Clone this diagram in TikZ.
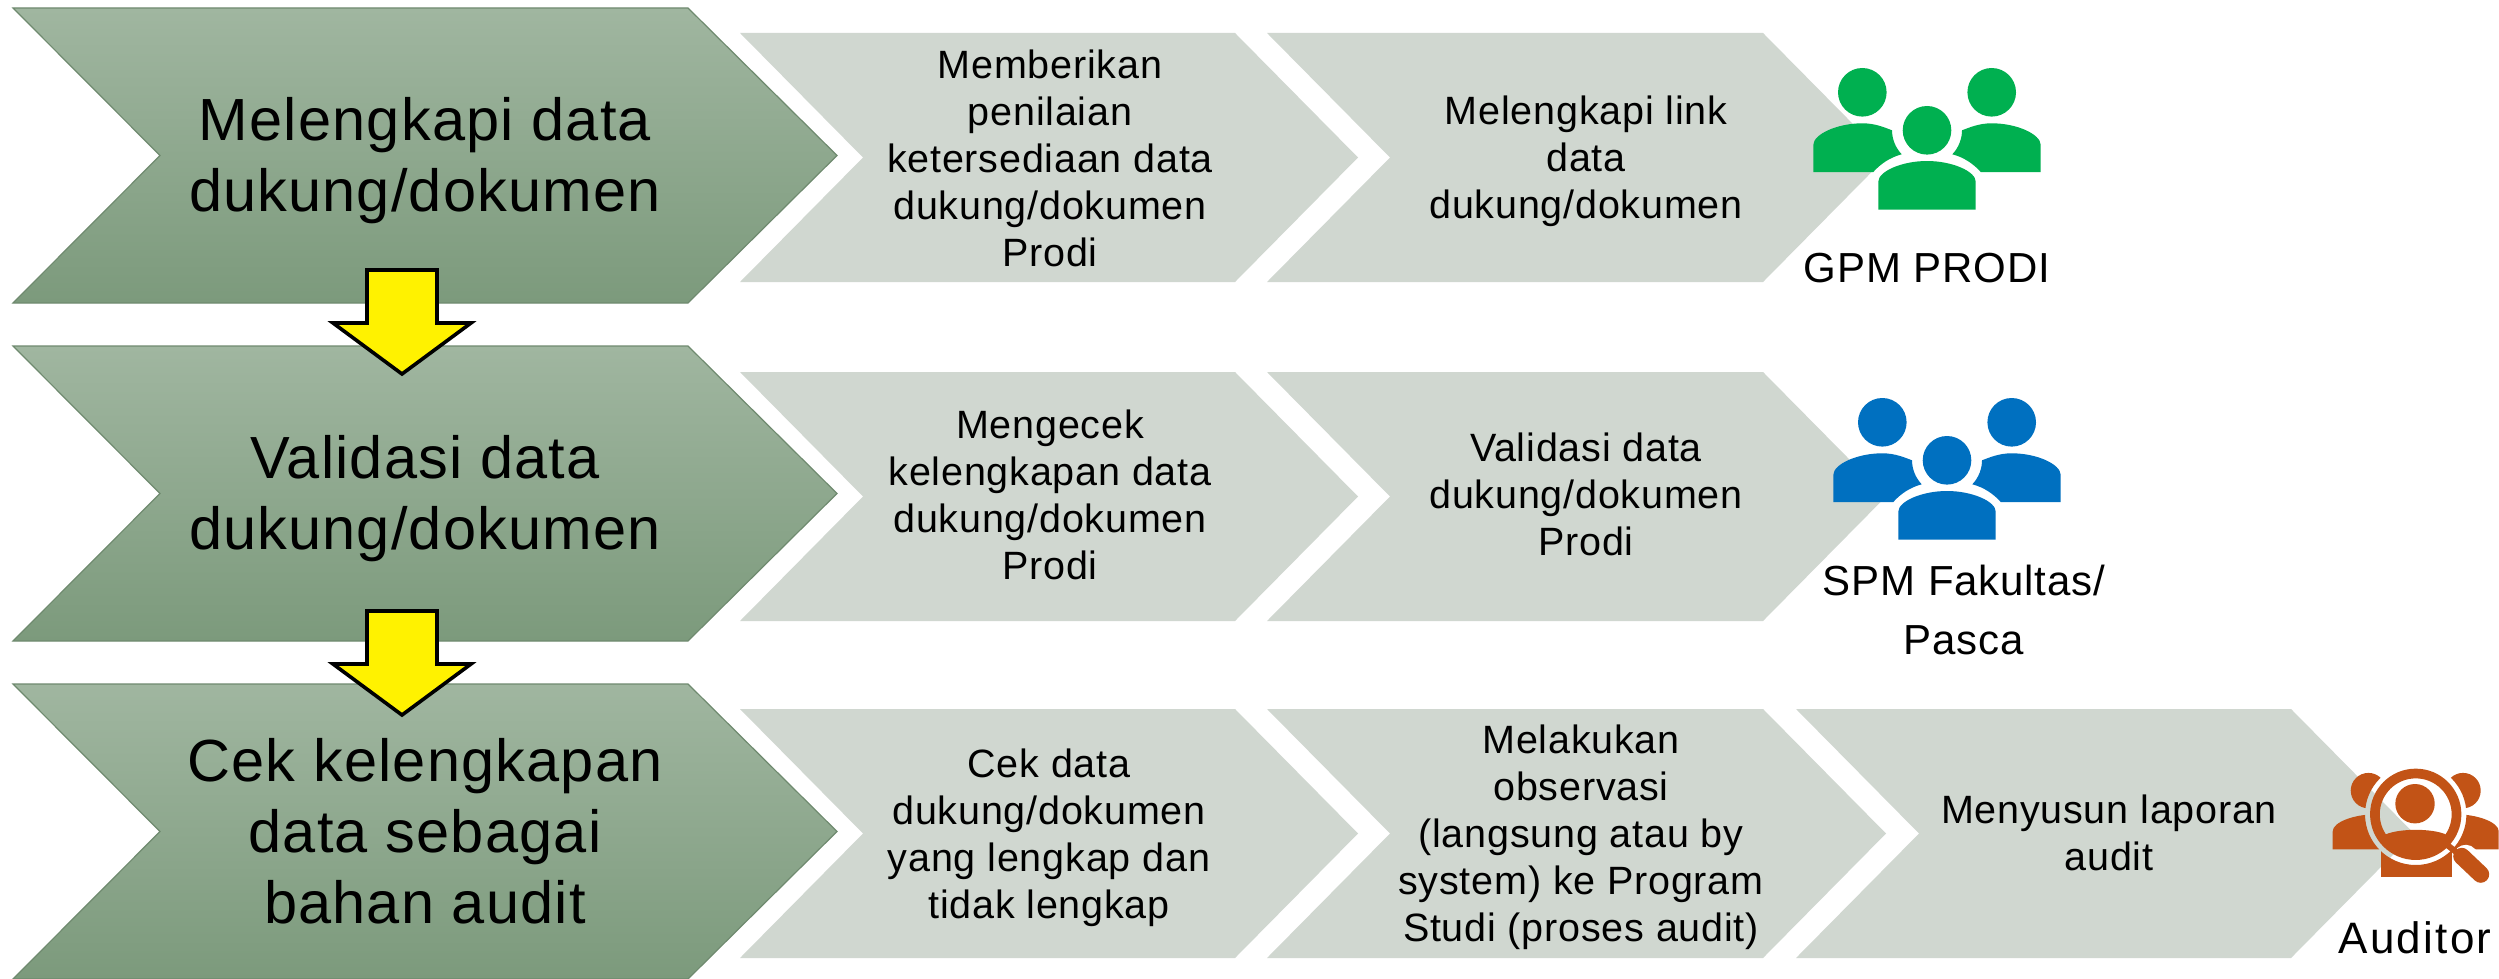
\documentclass[tikz,border=0pt]{standalone}
\usepackage{fontspec}
\setmainfont[LetterSpace=2]{Liberation Sans}
\usetikzlibrary{shapes.geometric}
\definecolor{bigtop}{HTML}{A0B6A0}
\definecolor{bigbot}{HTML}{7C9A7C}
\definecolor{smallfill}{HTML}{D0D7D0}
\definecolor{edgegray}{HTML}{6F8A6F}
\definecolor{gpmgreen}{HTML}{00B050}
\definecolor{spmblue}{HTML}{0070C0}
\definecolor{audorange}{HTML}{C25316}
\tikzset{
  bigtext/.style={font=\fontsize{59.5}{71}\selectfont,align=center,text=black},
  smalltext/.style={font=\fontsize{39.5}{47}\selectfont,align=center,text=black},
  roletext/.style={font=\fontsize{42}{59}\selectfont,align=center,text=black},
  downarrow/.style={draw=black,fill=yellow,line width=3.6pt,miter limit=10},
}
% big chevron: #1 = top y
\newcommand{\bigchev}[1]{%
  \shade[top color=bigtop,bottom color=bigbot,draw=edgegray,line width=1.2pt]
    (13,#1) -- (688,#1) -- (837,#1+147.5) -- (688,#1+295) -- (13,#1+295) -- (160,#1+147.5) -- cycle;}
% small chevron: #1 left x, #2 shoulder x, #3 top y
\newcommand{\smallchev}[3]{%
  \fill[smallfill] (#1,#3) -- (#2,#3) -- (#2+123,#3+124.5) -- (#2,#3+249) -- (#1,#3+249) -- (#1+123,#3+124.5) -- cycle;}
% yellow arrow: #1 = y offset
\newcommand{\yarrow}[1]{%
  \draw[downarrow] (367,270+#1) -- (437,270+#1) -- (437,323+#1) -- (471,323+#1) -- (402,374+#1) -- (333,323+#1) -- (367,323+#1) -- cycle;}
% people icon: #1,#2 = centre of the middle head, #3 colour
\newcommand{\people}[3]{%
  \begin{scope}[shift={(#1,#2)},fill=#3]
    \fill (-64.7,-38) circle[radius=24.3];
    \fill (64.7,-38) circle[radius=24.3];
    \fill (0,0) circle[radius=24.3];
    \fill (-113.7,41.7) -- (-113.7,14.7) .. controls (-113.7,4) and (-90,-7) .. (-64.7,-7)
      .. controls (-52,-7) and (-43,-3) .. (-35,0) .. controls (-35,8) and (-32,17) .. (-25.3,24)
      .. controls (-37,27) and (-47,34) .. (-53.7,41.7) -- cycle;
    \fill (113.7,41.7) -- (113.7,14.7) .. controls (113.7,4) and (90,-7) .. (64.7,-7)
      .. controls (52,-7) and (43,-3) .. (35,0) .. controls (35,8) and (32,17) .. (25.3,24)
      .. controls (37,27) and (47,34) .. (53.7,41.7) -- cycle;
    \fill (-48.7,79.4) -- (-48.7,51.4) .. controls (-48.7,41) and (-25,30.7) .. (0,30.7)
      .. controls (25,30.7) and (48.7,41) .. (48.7,51.4) -- (48.7,79.4) -- cycle;
  \end{scope}}
\begin{document}
\begin{tikzpicture}[x=1pt,y=-1pt]
\useasboundingbox (0,0) rectangle (2499,979);
\fill[white] (0,0) rectangle (2499,979);

\bigchev{8}
\bigchev{346}
\bigchev{684}

\smallchev{740}{1235}{33}
\smallchev{1267}{1763}{33}
\smallchev{740}{1235}{372}
\smallchev{1267}{1763}{372}
\smallchev{740}{1235}{709}
\smallchev{1267}{1763}{709}
\smallchev{1796}{2291}{709}

\yarrow{0}
\yarrow{341}

\node[bigtext] (b1) at (425,161) {Melengkapi data\\dukung/dokumen};
\node[bigtext] (b2) at (425,499) {Validasi data\\dukung/dokumen};
\node[bigtext] (b3) at (425,831) {Cek kelengkapan\\data sebagai\\bahan audit};

\node[smalltext] (a1) at (1050,158) {Memberikan\\penilaian\\ketersediaan data\\dukung/dokumen\\Prodi};
\node[smalltext] (a2) at (1586,161) {Melengkapi link\\data\\dukung/dokumen};
\node[smalltext] (c1) at (1050,495) {Mengecek\\kelengkapan data\\dukung/dokumen\\Prodi};
\node[smalltext] (c2) at (1586,494) {Validasi data\\dukung/dokumen\\Prodi};
\node[smalltext] (d1) at (1049,838) {Cek data\\dukung/dokumen\\yang lengkap dan\\tidak lengkap};
\node[smalltext] (d2) at (1581,837) {Melakukan\\observasi\\(langsung atau by\\system) ke Program\\Studi (proses audit)};
\node[smalltext] (d3) at (2109,833) {Menyusun laporan\\audit};

\people{1927}{130.3}{gpmgreen}
\people{1947}{460.3}{spmblue}

% auditor icon
\begin{scope}[shift={(2415.7,814.3)},fill=audorange]
  \begin{scope}
    \clip (-170,-100) -- (90,-100) -- (90,100) -- (-170,100) -- cycle
      (50.7,0) arc[start angle=0,end angle=-360,radius=50.7] -- cycle;
    \fill (-47.3,-23.7) circle[radius=17.7];
    \fill (47.3,-23.7) circle[radius=17.7];
    \fill (-83,35) -- (-83,17) .. controls (-83,8) and (-62,0) .. (-40,0) -- (-20,0) -- (-20,35) -- cycle;
    \fill (83,35) -- (83,17) .. controls (83,8) and (62,0) .. (40,0) -- (20,0) -- (30,35) -- cycle;
    \fill (-35,62.5) -- (-35,30) -- (36,30) -- (36,62.5) -- cycle;
  \end{scope}
  \draw[white,line width=25pt,line cap=round] (50,43) -- (65,60);
  \draw[audorange,line width=9.7pt] (0,0) circle[radius=40.8];
  \fill (-0.7,-10.6) circle[radius=19.7];
  \begin{scope}
    \clip (0,0) circle[radius=40.8];
    \fill (-30,20) .. controls (-15,14) and (15,14) .. (30,20) -- (30,50) -- (-30,50) -- cycle;
  \end{scope}
  \draw[audorange,line width=6pt] (28,28) -- (46,42);
  \draw[audorange,line width=17pt,line cap=round] (46,42) -- (65,60);
\end{scope}

\node[roletext,anchor=base] (r1) at (1927,282) {GPM PRODI};
\node[roletext] (r2) at (1964,610) {SPM Fakultas/\\Pasca};
\node[roletext,anchor=base] (r3) at (2415,953) {\fontsize{44}{59}\selectfont\addfontfeature{LetterSpace=5}Auditor};
\end{tikzpicture}
\end{document}
